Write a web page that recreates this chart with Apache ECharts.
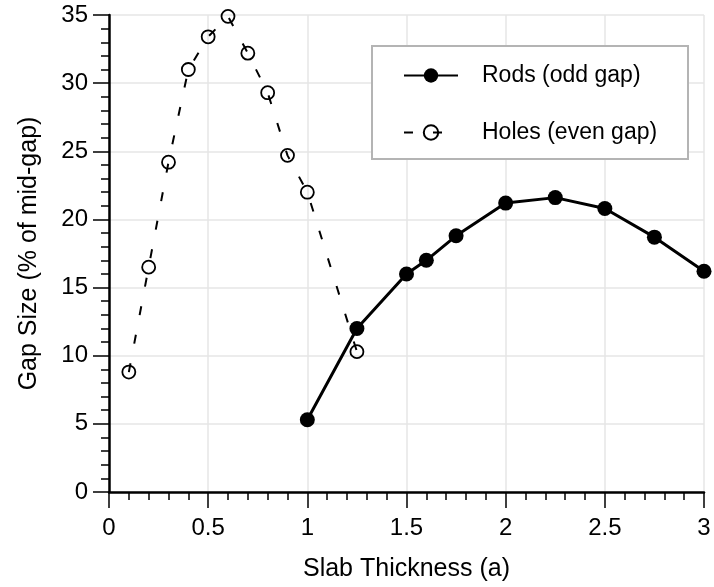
<!DOCTYPE html>
<html>
<head>
<meta charset="utf-8">
<script src="https://cdn.jsdelivr.net/npm/echarts@6/dist/echarts.min.js"></script>
<style>
html,body{margin:0;padding:0;background:#fff;}
#chart{width:714px;height:587px;}
</style>
</head>
<body>
<div id="chart"></div>
<script>
// Data
const seriesNames = ['Rods (odd gap)', 'Holes (even gap)'];
const rodsX = [1.0, 1.25, 1.5, 1.6, 1.75, 2.0, 2.25, 2.5, 2.75, 3.0];
const rodsY = [5.3, 12.0, 16.0, 17.0, 18.8, 21.2, 21.6, 20.8, 18.7, 16.2];
const holesX = [0.1, 0.2, 0.3, 0.4, 0.5, 0.6, 0.7, 0.8, 0.9, 1.0, 1.25];
const holesY = [8.8, 16.5, 24.2, 31.0, 33.4, 34.9, 32.2, 29.3, 24.7, 22.0, 10.3];
const xAxisTitle = 'Slab Thickness (a)';
const yAxisTitle = 'Gap Size (% of mid-gap)';

const FONT = 'Liberation Sans, Arial, sans-serif';
const rodsData = rodsX.map((x, i) => [x, rodsY[i]]);
const holesData = holesX.map((x, i) => [x, holesY[i]]);

const axisCommon = {
  type: 'value',
  axisLine: { show: true, onZero: false, lineStyle: { color: '#000', width: 2.5 } },
  axisTick: { show: true, inside: false, length: 16, lineStyle: { color: '#000', width: 1.5 } },
  minorTick: { show: true, splitNumber: 5, length: 8, lineStyle: { color: '#000', width: 1.5 } },
  splitLine: { show: true, lineStyle: { color: '#e6e6e6', width: 1.5 } },
  nameLocation: 'middle',
  nameTextStyle: { fontFamily: FONT, fontSize: 25, color: '#000' }
};

const chart = echarts.init(document.getElementById('chart'), null, { renderer: 'canvas' });
chart.setOption({
  animation: false,
  backgroundColor: '#fff',
  grid: { left: 109, right: 10, top: 15, bottom: 95, containLabel: false },
  xAxis: Object.assign({}, axisCommon, {
    min: 0, max: 3, interval: 0.5,
    name: xAxisTitle, nameGap: 65,
    axisLabel: { fontFamily: FONT, fontSize: 24, color: '#000', margin: 24 }
  }),
  yAxis: Object.assign({}, axisCommon, {
    min: 0, max: 35, interval: 5,
    name: yAxisTitle, nameGap: 67,
    axisLabel: { fontFamily: FONT, fontSize: 24, color: '#000', margin: 21 }
  }),
  legend: {
    data: seriesNames,
    orient: 'vertical',
    left: 403, top: 64, padding: 0,
    itemWidth: 54, itemHeight: 18, itemGap: 34,
    textStyle: { fontFamily: FONT, fontSize: 23, color: '#000', padding: [0, 0, 0, 19] },
    z: 6
  },
  graphic: [{
    type: 'rect', z: 5,
    shape: { x: 372, y: 46, width: 316, height: 113 },
    style: { fill: '#fff', stroke: '#b4b4b4', lineWidth: 2 }
  }],
  series: [
    {
      name: seriesNames[0], type: 'line', data: rodsData, z: 3,
      symbol: 'circle', symbolSize: 15, showSymbol: true,
      itemStyle: { color: '#000' },
      lineStyle: { color: '#000', width: 3 }
    },
    {
      name: seriesNames[1], type: 'line', data: holesData, z: 2,
      symbol: 'circle', symbolSize: 13, showSymbol: true,
      itemStyle: { color: 'rgba(0,0,0,0)', borderColor: '#000', borderWidth: 1.8 },
      lineStyle: { color: '#000', width: 2, type: [9, 20] }
    }
  ]
});
</script>
</body>
</html>
